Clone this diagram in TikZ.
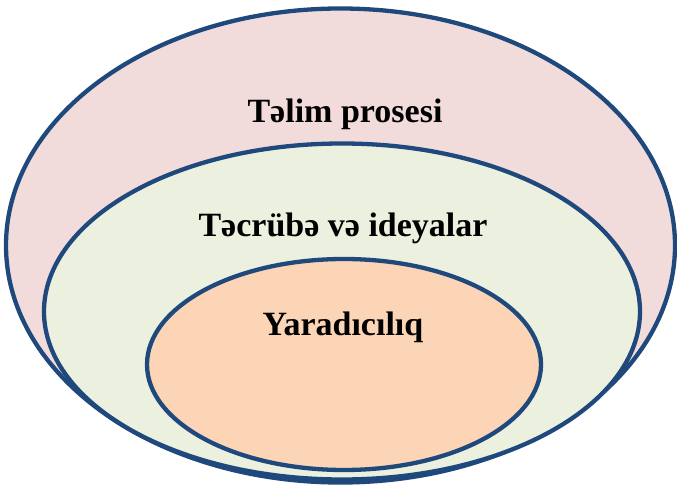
\documentclass[tikz,border=0pt]{standalone}
\usepackage{fontspec}
\setmainfont{Liberation Serif}
\usetikzlibrary{shapes.geometric}
\definecolor{rim}{RGB}{31,73,125}
\definecolor{pinkfill}{RGB}{242,220,219}
\definecolor{greenfill}{RGB}{235,241,222}
\definecolor{peachfill}{RGB}{251,213,181}
\tikzset{
  ring/.style={ellipse, draw=rim, line width=4.3pt, inner sep=0pt},
  lbl/.style={anchor=base, font=\fontsize{34}{40}\selectfont\bfseries}
}
\begin{document}
\begin{tikzpicture}[x=1pt,y=-1pt]
  \useasboundingbox (0,0) rectangle (677,486);

  \node at (340.5,245.5) [ring, fill=pinkfill, minimum width=669pt, minimum height=474pt] (outer) {};
  \node at (342,311.5) [ring, fill=greenfill, minimum width=596pt, minimum height=336pt] (middle) {};
  \node at (344,364.5) [ring, fill=peachfill, minimum width=394pt, minimum height=211pt] (inner) {};

  \node at (345,123) [lbl] (talim) {Təlim prosesi};
  \node at (343,237) [lbl] (tacruba) {Təcrübə və ideyalar};
  \node at (343,335) [lbl] (yarad) {Yaradıcılıq};
\end{tikzpicture}
\end{document}
